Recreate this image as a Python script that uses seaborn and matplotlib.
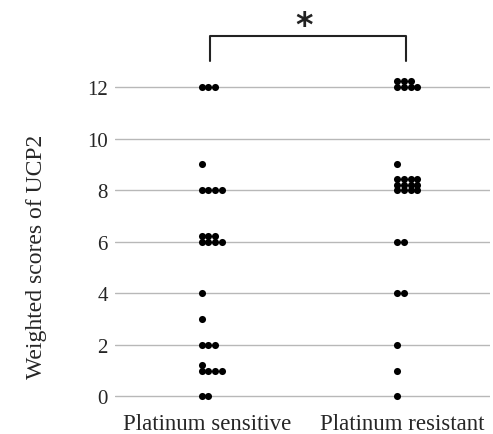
import numpy as np
import pandas as pd
import matplotlib
matplotlib.use("Agg")
import matplotlib.pyplot as plt
import seaborn as sns

# ---- data ----
groups = ["Platinum sensitive", "Platinum resistant"]
score_levels = [0, 1, 2, 3, 4, 6, 8, 9, 12]
counts_sensitive = [2, 5, 3, 1, 1, 7, 4, 1, 3]
counts_resistant = [1, 1, 1, 0, 2, 2, 12, 1, 7]
yticks = [0, 2, 4, 6, 8, 10, 12]
ylabel = "Weighted scores of UCP2"
sig_label = "*"

# ---- layout of dot stacks (derived from the counts) ----
per_row = 4
dx = 0.034
dy = 0.22
x0 = -0.025
rows = []
for gi, (g, counts) in enumerate(zip(groups, [counts_sensitive, counts_resistant])):
    for s, n in zip(score_levels, counts):
        for k in range(n):
            r, c = divmod(k, per_row)
            rows.append({"group": g, "score": s,
                         "xpos": gi + x0 + c * dx,
                         "ypos": s + r * dy})
df = pd.DataFrame(rows)

sns.set_style("white")
plt.rcParams["font.family"] = ["Liberation Serif", "DejaVu Serif"]

fig = plt.figure(figsize=(4.93, 4.35), dpi=100)
ax = fig.add_axes([0.233, 0.057, 0.761, 0.918])

sns.scatterplot(data=df, x="xpos", y="ypos", color="black", s=26,
                edgecolor="black", linewidth=0, ax=ax, legend=False, zorder=3)

ax.set_xlim(-0.47, 1.45)
ax.set_ylim(-0.5, 15)
ax.set_yticks(yticks)
ax.set_yticklabels([str(t) for t in yticks], fontsize=15)
ax.set_xticks([0, 1])
ax.set_xticklabels(groups, fontsize=16.5)
ax.tick_params(axis="x", length=0, pad=3)
ax.tick_params(axis="y", length=0, pad=5)
ax.set_xlabel("")
ax.set_ylabel(ylabel, fontsize=17)
ax.yaxis.set_label_coords(-0.18, 0.383)

for t in yticks:
    ax.axhline(t, color="#b8b8b8", linewidth=1.0, zorder=1)

for sp in ax.spines.values():
    sp.set_visible(False)

# significance bracket
ax.plot([0.015, 0.015, 1.02, 1.02], [13.0, 14.0, 14.0, 13.0],
        color="#222222", linewidth=1.5, clip_on=False)
ax.text(0.5, 14.4, sig_label, ha="center", va="center", fontsize=24,
        fontweight="bold", fontfamily="DejaVu Sans", color="#222222")

fig.savefig("out.png", dpi=100)
